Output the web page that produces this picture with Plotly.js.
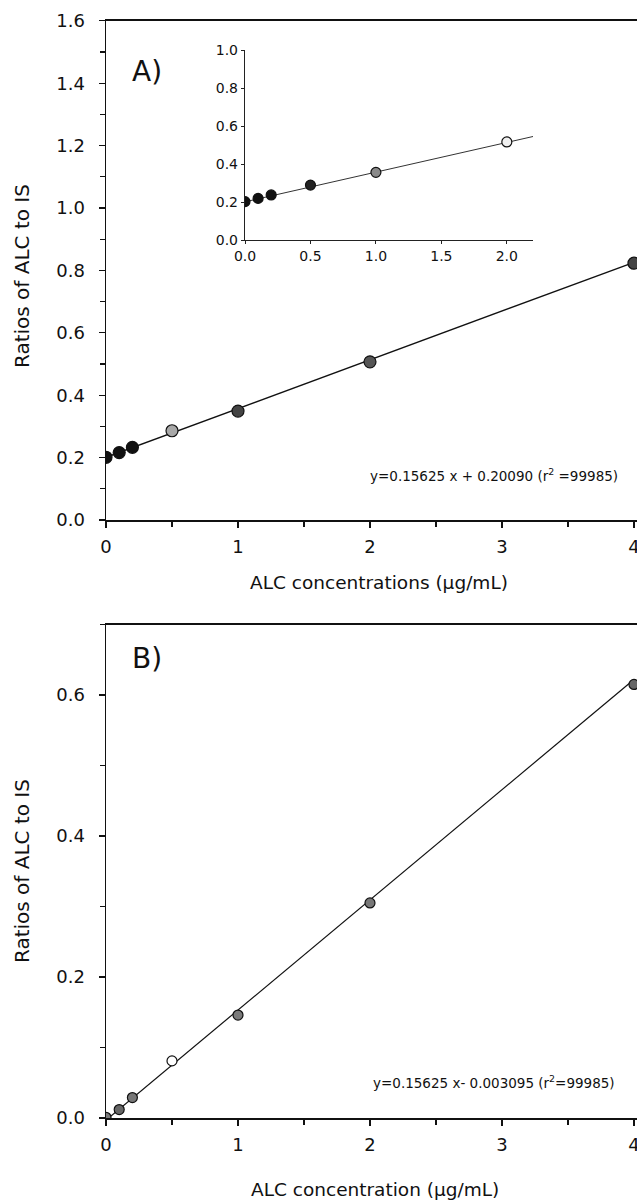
<!DOCTYPE html>
<html>
<head>
<meta charset="utf-8">
<script src="https://cdn.plot.ly/plotly-3.0.1.min.js"></script>
<style>html,body{margin:0;padding:0;background:#fff;}#chart{width:637px;height:1200px;}</style>
</head>
<body>
<div id="chart"></div>
<script>
// ---- Data ----
// Panel A (main)
const concA  = [0, 0.1, 0.2, 0.5, 1, 2, 4];
const ratioA = [0.201, 0.216, 0.233, 0.286, 0.349, 0.507, 0.823];
const fitAx  = [0, 4];
const fitAy  = [0.2009, 0.8259];
// Panel A (inset)
const concInset  = [0, 0.1, 0.2, 0.5, 1.0, 2.0];
const ratioInset = [0.202, 0.219, 0.237, 0.289, 0.356, 0.516];
const fitInsetX  = [0, 2.2];
const fitInsetY  = [0.2009, 0.5447];
// Panel B
const concB  = [0, 0.1, 0.2, 0.5, 1, 2, 4];
const ratioB = [0.001, 0.012, 0.029, 0.081, 0.146, 0.305, 0.615];
const fitBx  = [0, 4];
const fitBy  = [-0.0031, 0.6219];
// Text
const labelA = "A)";
const labelB = "B)";
const eqA = "y=0.15625 x + 0.20090 (r<sup>2</sup> =99985)";
const eqB = "y=0.15625 x- 0.003095 (r<sup>2</sup>=99985)";
const yTitle = "Ratios of ALC to IS";
const xTitleA = "ALC concentrations (\u00b5g/mL)";
const xTitleB = "ALC concentration (\u00b5g/mL)";

// ---- Styles ----
const W = 637, H = 1200;
const FONT = "DejaVu Sans, Liberation Sans, Arial, sans-serif";
const px = v => v / W;
const py = v => 1 - v / H;
const colA = ['#111','#111','#111','#a8a8a8','#444','#555','#444'];
const colInset = ['#111','#111','#111','#222','#8a8a8a','#f0f0f0'];
const colB = ['#7a7a7a','#666','#777','#ffffff','#7a7a7a','#777','#666'];

const traces = [
  {x: fitAx, y: fitAy, xaxis:'x', yaxis:'y', mode:'lines', line:{color:'#111', width:1.4}, hoverinfo:'skip'},
  {x: concA, y: ratioA, xaxis:'x', yaxis:'y', mode:'markers',
   marker:{size:12, color:colA, line:{color:'#111', width:1.2}}},
  {x: fitInsetX, y: fitInsetY, xaxis:'x3', yaxis:'y3', mode:'lines', line:{color:'#333', width:1}, hoverinfo:'skip'},
  {x: concInset, y: ratioInset, xaxis:'x3', yaxis:'y3', mode:'markers',
   marker:{size:10, color:colInset, line:{color:'#111', width:1.2}}},
  {x: fitBx, y: fitBy, xaxis:'x2', yaxis:'y2', mode:'lines', line:{color:'#111', width:1.2}, hoverinfo:'skip'},
  {x: concB, y: ratioB, xaxis:'x2', yaxis:'y2', mode:'markers',
   marker:{size:10, color:colB, line:{color:'#111', width:1.2}}}
];

const tickFont = {family: FONT, size: 18, color:'#111'};
const mainAxis = {
  showline:true, linecolor:'#111', linewidth:1.5, mirror:true,
  ticks:'outside', ticklen:6, tickwidth:1.2, tickcolor:'#111',
  showgrid:false, zeroline:false, tickfont:tickFont, ticklabelstandoff:4,
  ticklabeloverflow:'allow'
};
const insetFont = {family:FONT, size:14, color:'#111'};

function note(text, x, y, size, extra) {
  return Object.assign({text:text, x:px(x), y:py(y), xref:'paper', yref:'paper',
    xanchor:'center', yanchor:'middle', showarrow:false, font:{size:size, family:FONT, color:'#111'}}, extra || {});
}

const layout = {
  width: W, height: H,
  margin:{l:0, r:0, t:0, b:0},
  paper_bgcolor:'#fff', plot_bgcolor:'rgba(0,0,0,0)',
  showlegend:false,
  font:{family:FONT, color:'#111'},
  xaxis: Object.assign({}, mainAxis, {domain:[px(106), 1], range:[0, 4.023], dtick:1, tick0:0,
    minor:{dtick:0.5, ticks:'outside', ticklen:5, tickcolor:'#111'}, anchor:'y'}),
  yaxis: Object.assign({}, mainAxis, {domain:[py(520), py(20.8)], range:[0, 1.6], dtick:0.2, tickformat:'.1f',
    minor:{dtick:0.1, ticks:'outside', ticklen:5, tickcolor:'#111'}, anchor:'x', ticklabelstandoff:10}),
  xaxis2: Object.assign({}, mainAxis, {domain:[px(106), 1], range:[0, 4.023], dtick:1, tick0:0,
    minor:{dtick:0.5, ticks:'outside', ticklen:5, tickcolor:'#111'}, anchor:'y2'}),
  yaxis2: Object.assign({}, mainAxis, {domain:[py(1118), py(624.5)], range:[0, 0.7], dtick:0.2, tickformat:'.1f',
    minor:{dtick:0.1, ticks:'outside', ticklen:5, tickcolor:'#111'}, anchor:'x2', ticklabelstandoff:10}),
  xaxis3: {domain:[px(245), px(533)], range:[0, 2.2], dtick:0.5, tickformat:'.1f', anchor:'y3',
    showline:true, linecolor:'#222', linewidth:1.2, ticks:'outside', ticklen:3, tickcolor:'#222',
    showgrid:false, zeroline:false, tickfont:insetFont},
  yaxis3: {domain:[py(240), py(50)], range:[0, 1.0], dtick:0.2, tickformat:'.1f', anchor:'x3',
    showline:true, linecolor:'#222', linewidth:1.2, ticks:'outside', ticklen:3, tickcolor:'#222',
    showgrid:false, zeroline:false, tickfont:insetFont, ticklabelstandoff:0},
  annotations: [
    note(labelA, 147, 71, 28),
    note(labelB, 147, 658, 28),
    note(eqA, 620, 475, 13.5, {xanchor:'right'}),
    note(eqB, 617, 1082, 13.5, {xanchor:'right'}),
    note(yTitle, 22, 276, 20, {textangle:-90}),
    note(yTitle, 22, 871, 20, {textangle:-90}),
    note(xTitleA, 379, 582, 18.5),
    note(xTitleB, 375, 1189, 18.5)
  ]
};

Plotly.newPlot('chart', traces, layout, {staticPlot:true, displayModeBar:false});
</script>
</body>
</html>
